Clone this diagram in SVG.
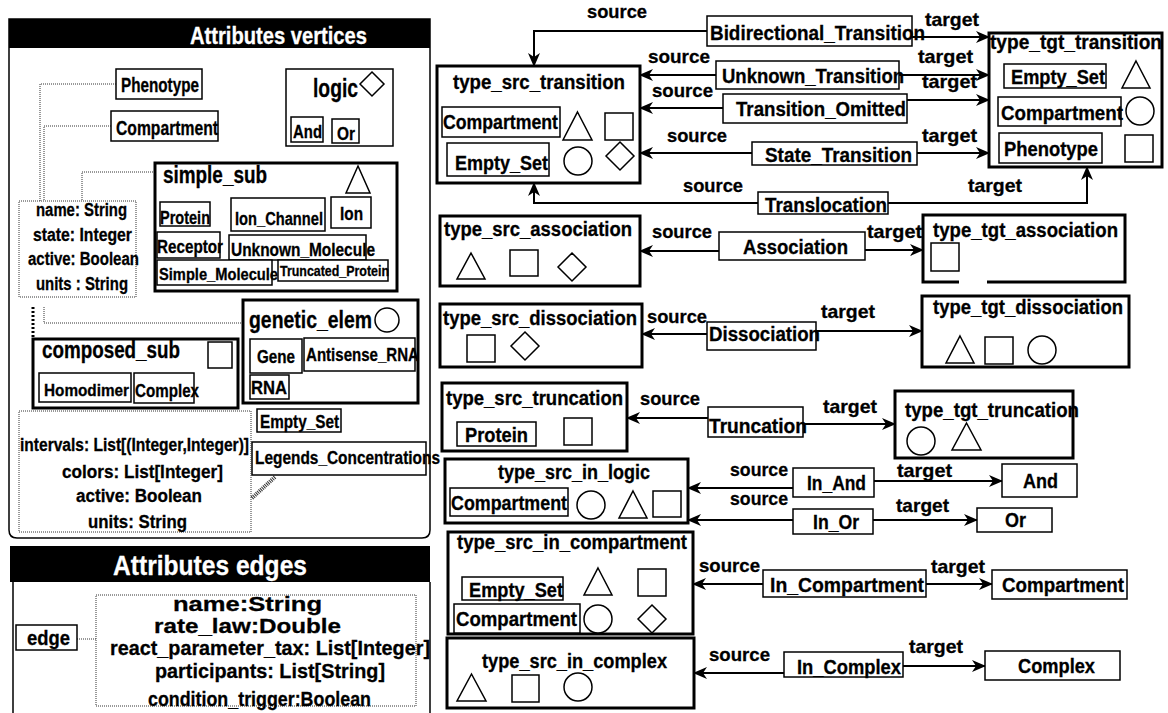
<svg xmlns="http://www.w3.org/2000/svg" width="1168" height="713" viewBox="0 0 1168 713">
  <style>
    .t { font-family: "Liberation Sans", Arial, sans-serif; font-weight: bold; fill: #000; stroke: #000; stroke-width: 0.3; font-size: 20px; }
    .title { font-size: 20px; }
    .big { font-size: 23px; }
    .sm { font-size: 18px; }
    .lbl { font-size: 19px; }
    .ea { font-size: 21px; }
    .wt { fill: #fff; stroke: #fff; }
    .box { fill: #fff; stroke: #000; stroke-width: 1.5; }
    .thick { fill: #fff; stroke: #000; stroke-width: 3; }
    .shape { fill: #fff; stroke: #000; stroke-width: 1.5; }
    .dot { fill: none; stroke: #333; stroke-width: 1; stroke-dasharray: 1 1; }
    .conn { fill: none; stroke: #000; stroke-width: 2; }
  </style>
  <defs>
    <marker id="arr" viewBox="0 0 14 12" refX="13" refY="6" markerWidth="14" markerHeight="12" markerUnits="userSpaceOnUse" orient="auto">
      <path d="M0,0 L14,6 L0,12 L4,6 Z" fill="#000"/>
    </marker>
  </defs>

  <rect width="1168" height="713" fill="#fff"/>

  <!-- vertex attribute panel -->
  <g id="panel_vertices">
    <path d="M9,19 H430 V530 Q430,538 422,538 H17 Q9,538 9,530 Z" fill="#fff" stroke="#000" stroke-width="1.5"/>
    <rect x="9" y="19" width="421" height="29" fill="#000"/>
    <text class="t wt big" x="190" y="44" textLength="177" lengthAdjust="spacingAndGlyphs">Attributes vertices</text>
  </g>

  <!-- edge attribute panel -->
  <g id="panel_edges">
    <rect x="10" y="546" width="420" height="36" fill="#000"/>
    <path d="M13,582 V713 M430,582 V713" fill="none" stroke="#000" stroke-width="1.5"/>
    <text class="t wt" style="font-size:28px" x="113" y="575" textLength="194" lengthAdjust="spacingAndGlyphs">Attributes edges</text>
  </g>

  <!-- dotted attachment lines inside the panels -->
  <g id="attribute_links">
    <path class="dot" d="M116,84 H40 V201"/>
    <path class="dot" d="M111,126 H44 V201"/>
    <path class="dot" d="M155,172 H82 V201"/>
    <path class="dot" d="M44,307 V323 H243"/>
    <path d="M33,307 V338" fill="none" stroke="#000" stroke-width="3" stroke-dasharray="2 2"/>
    <path d="M252,498 L275,477" fill="none" stroke="#333" stroke-width="4" stroke-dasharray="1 1"/>
    <path class="dot" d="M77,639 H96"/>
  </g>

  <g id="phenotype">
    <rect class="box" x="116" y="69" width="86" height="30"/>
    <text class="t" x="121" y="92" textLength="78" lengthAdjust="spacingAndGlyphs">Phenotype</text>
  </g>
  <g id="compartment">
    <rect class="box" x="111" y="111" width="107" height="30"/>
    <text class="t" x="116" y="135" textLength="102" lengthAdjust="spacingAndGlyphs">Compartment</text>
  </g>
  <g id="logic">
    <rect class="box" x="286" y="69" width="107" height="77"/>
    <text class="t" style="font-size:25px" x="313" y="97" textLength="45" lengthAdjust="spacingAndGlyphs">logic</text>
    <polygon class="shape" points="372,72 384,84 372,96 360,84"/>
    <rect class="box" x="291" y="117" width="32" height="25"/>
    <text class="t sm" x="293" y="138" textLength="29" lengthAdjust="spacingAndGlyphs">And</text>
    <rect class="box" x="332" y="119" width="27" height="24"/>
    <text class="t sm" x="337" y="140" textLength="18" lengthAdjust="spacingAndGlyphs">Or</text>
  </g>

  <g id="simple_sub">
    <rect class="thick" x="155" y="163" width="242" height="128"/>
    <text class="t big" x="163" y="183" textLength="104" lengthAdjust="spacingAndGlyphs">simple_sub</text>
    <polygon class="shape" points="358,166 370,193 346,193"/>
    <rect class="box" x="160" y="202" width="50" height="24"/>
    <text class="t sm" x="160" y="224" textLength="50" lengthAdjust="spacingAndGlyphs">Protein</text>
    <rect class="box" x="231" y="198" width="94" height="33"/>
    <text class="t sm" x="235" y="225" textLength="88" lengthAdjust="spacingAndGlyphs">Ion_Channel</text>
    <rect class="box" x="331" y="197" width="40" height="31"/>
    <text class="t sm" x="340" y="220" textLength="23" lengthAdjust="spacingAndGlyphs">Ion</text>
    <rect class="box" x="157" y="232" width="63" height="26"/>
    <text class="t sm" x="157" y="253" textLength="66" lengthAdjust="spacingAndGlyphs">Receptor</text>
    <rect class="box" x="229" y="235" width="137" height="25"/>
    <text class="t sm" x="231" y="256" textLength="144" lengthAdjust="spacingAndGlyphs">Unknown_Molecule</text>
    <rect class="box" x="157" y="260" width="115" height="25"/>
    <text class="t" style="font-size:16px" x="159" y="280" textLength="119" lengthAdjust="spacingAndGlyphs">Simple_Molecule</text>
    <rect class="box" x="278" y="260" width="110" height="21"/>
    <text class="t" style="font-size:14px" x="280" y="276" textLength="109" lengthAdjust="spacingAndGlyphs">Truncated_Protein</text>
  </g>

  <g id="vertex_attributes">
    <rect class="dot" x="19" y="201" width="117" height="96"/>
    <text class="t sm" x="36" y="216" textLength="91" lengthAdjust="spacingAndGlyphs">name: String</text>
    <text class="t sm" x="33" y="241" textLength="99" lengthAdjust="spacingAndGlyphs">state: Integer</text>
    <text class="t sm" x="28" y="265" textLength="111" lengthAdjust="spacingAndGlyphs">active: Boolean</text>
    <text class="t sm" x="36" y="290" textLength="92" lengthAdjust="spacingAndGlyphs">units : String</text>
  </g>

  <g id="genetic_elem">
    <rect class="thick" x="243" y="300" width="175" height="103"/>
    <text class="t big" x="249" y="328" textLength="123" lengthAdjust="spacingAndGlyphs">genetic_elem</text>
    <circle class="shape" cx="387" cy="320" r="12"/>
    <rect class="box" x="250" y="339" width="52" height="34"/>
    <text class="t sm" x="257" y="363" textLength="38" lengthAdjust="spacingAndGlyphs">Gene</text>
    <rect class="box" x="304" y="338" width="111" height="33"/>
    <text class="t sm" x="306" y="361" textLength="113" lengthAdjust="spacingAndGlyphs">Antisense_RNA</text>
    <rect class="box" x="250" y="375" width="39" height="24"/>
    <text class="t sm" x="251" y="394" textLength="36" lengthAdjust="spacingAndGlyphs">RNA</text>
  </g>

  <g id="composed_sub">
    <rect class="thick" x="33" y="339" width="205" height="69"/>
    <text class="t big" x="42" y="358" textLength="138" lengthAdjust="spacingAndGlyphs">composed_sub</text>
    <rect class="shape" x="208" y="342" width="24" height="26"/>
    <rect class="box" x="39" y="373" width="92" height="29"/>
    <text class="t" style="font-size:16px" x="44" y="396" textLength="85" lengthAdjust="spacingAndGlyphs">Homodimer</text>
    <rect class="box" x="134" y="373" width="60" height="30"/>
    <text class="t sm" x="135" y="397" textLength="64" lengthAdjust="spacingAndGlyphs">Complex</text>
  </g>

  <g id="empty_set">
    <rect class="box" x="257" y="409" width="84" height="23"/>
    <text class="t sm" x="260" y="428" textLength="79" lengthAdjust="spacingAndGlyphs">Empty_Set</text>
  </g>
  <g id="legends_concentrations">
    <rect class="box" x="252" y="442" width="174" height="33"/>
    <text class="t sm" x="255" y="464" textLength="185" lengthAdjust="spacingAndGlyphs">Legends_Concentrations</text>
  </g>

  <g id="legend_attributes">
    <rect class="dot" x="19" y="411" width="232" height="121"/>
    <text class="t sm" x="20" y="451" textLength="229" lengthAdjust="spacingAndGlyphs">intervals: List[(Integer,Integer)]</text>
    <text class="t sm" x="62" y="478" textLength="161" lengthAdjust="spacingAndGlyphs">colors: List[Integer]</text>
    <text class="t sm" x="76" y="502" textLength="126" lengthAdjust="spacingAndGlyphs">active: Boolean</text>
    <text class="t sm" x="88" y="528" textLength="99" lengthAdjust="spacingAndGlyphs">units: String</text>
  </g>

  <g id="edge">
    <rect class="box" x="16" y="625" width="61" height="25"/>
    <text class="t" style="font-size:21px" x="27" y="645" textLength="43" lengthAdjust="spacingAndGlyphs">edge</text>
  </g>
  <g id="edge_attributes">
    <rect class="dot" x="96" y="595" width="320" height="111"/>
    <text class="t ea" x="173" y="611" textLength="149" lengthAdjust="spacingAndGlyphs">name:String</text>
    <text class="t ea" x="154" y="633" textLength="187" lengthAdjust="spacingAndGlyphs">rate_law:Double</text>
    <text class="t ea" x="110" y="655" textLength="320" lengthAdjust="spacingAndGlyphs">react_parameter_tax: List[Integer]</text>
    <text class="t ea" x="155" y="678" textLength="230" lengthAdjust="spacingAndGlyphs">participants: List[String]</text>
    <text class="t ea" x="148" y="706" textLength="223" lengthAdjust="spacingAndGlyphs">condition_trigger:Boolean</text>
  </g>

  <!-- connectors between reaction labels and their source / target types -->
  <g id="connectors">
    <path class="conn" d="M707,31 H534 V66" marker-end="url(#arr)"/>
    <path class="conn" d="M912,37 H989" marker-end="url(#arr)"/>
    <path class="conn" d="M716,75 H640" marker-end="url(#arr)"/>
    <path class="conn" d="M899,75 H989" marker-end="url(#arr)"/>
    <path class="conn" d="M723,108 H640" marker-end="url(#arr)"/>
    <path class="conn" d="M907,100 H989" marker-end="url(#arr)"/>
    <path class="conn" d="M752,153 H640" marker-end="url(#arr)"/>
    <path class="conn" d="M917,153 H989" marker-end="url(#arr)"/>
    <path class="conn" d="M758,203 H534 V183" marker-end="url(#arr)"/>
    <path class="conn" d="M888,203 H1087 V167" marker-end="url(#arr)"/>
    <path class="conn" d="M719,251 H640" marker-end="url(#arr)"/>
    <path class="conn" d="M865,250 H923" marker-end="url(#arr)"/>
    <path class="conn" d="M707,334 H642" marker-end="url(#arr)"/>
    <path class="conn" d="M816,331 H922" marker-end="url(#arr)"/>
    <path class="conn" d="M708,418 H627" marker-end="url(#arr)"/>
    <path class="conn" d="M803,424 H895" marker-end="url(#arr)"/>
    <path class="conn" d="M793,488 H688" marker-end="url(#arr)"/>
    <path class="conn" d="M874,481 H1002" marker-end="url(#arr)"/>
    <path class="conn" d="M793,520 H688" marker-end="url(#arr)"/>
    <path class="conn" d="M873,520 H977" marker-end="url(#arr)"/>
    <path class="conn" d="M763,584 H693" marker-end="url(#arr)"/>
    <path class="conn" d="M926,584 H992" marker-end="url(#arr)"/>
    <path class="conn" d="M784,673 H694" marker-end="url(#arr)"/>
    <path class="conn" d="M903,666 H985" marker-end="url(#arr)"/>
  </g>

  <!-- connector role labels -->
  <g id="role_labels">
    <text class="t lbl" x="587" y="18" textLength="60" lengthAdjust="spacingAndGlyphs">source</text>
    <text class="t lbl" x="648" y="63" textLength="62" lengthAdjust="spacingAndGlyphs">source</text>
    <text class="t lbl" x="652" y="97" textLength="61" lengthAdjust="spacingAndGlyphs">source</text>
    <text class="t lbl" x="667" y="142" textLength="60" lengthAdjust="spacingAndGlyphs">source</text>
    <text class="t lbl" x="683" y="192" textLength="60" lengthAdjust="spacingAndGlyphs">source</text>
    <text class="t lbl" x="652" y="238" textLength="60" lengthAdjust="spacingAndGlyphs">source</text>
    <text class="t lbl" x="647" y="323" textLength="60" lengthAdjust="spacingAndGlyphs">source</text>
    <text class="t lbl" x="640" y="405" textLength="60" lengthAdjust="spacingAndGlyphs">source</text>
    <text class="t lbl" x="730" y="476" textLength="58" lengthAdjust="spacingAndGlyphs">source</text>
    <text class="t lbl" x="730" y="505" textLength="58" lengthAdjust="spacingAndGlyphs">source</text>
    <text class="t lbl" x="699" y="572" textLength="61" lengthAdjust="spacingAndGlyphs">source</text>
    <text class="t lbl" x="709" y="661" textLength="61" lengthAdjust="spacingAndGlyphs">source</text>
    <text class="t lbl" x="925" y="26" textLength="54" lengthAdjust="spacingAndGlyphs">target</text>
    <text class="t lbl" x="918" y="63" textLength="55" lengthAdjust="spacingAndGlyphs">target</text>
    <text class="t lbl" x="922" y="88" textLength="55" lengthAdjust="spacingAndGlyphs">target</text>
    <text class="t lbl" x="922" y="142" textLength="55" lengthAdjust="spacingAndGlyphs">target</text>
    <text class="t lbl" x="968" y="192" textLength="54" lengthAdjust="spacingAndGlyphs">target</text>
    <text class="t lbl" x="867" y="238" textLength="55" lengthAdjust="spacingAndGlyphs">target</text>
    <text class="t lbl" x="821" y="318" textLength="54" lengthAdjust="spacingAndGlyphs">target</text>
    <text class="t lbl" x="823" y="413" textLength="54" lengthAdjust="spacingAndGlyphs">target</text>
    <text class="t lbl" x="897" y="477" textLength="55" lengthAdjust="spacingAndGlyphs">target</text>
    <text class="t lbl" x="896" y="512" textLength="53" lengthAdjust="spacingAndGlyphs">target</text>
    <text class="t lbl" x="931" y="573" textLength="54" lengthAdjust="spacingAndGlyphs">target</text>
    <text class="t lbl" x="909" y="653" textLength="54" lengthAdjust="spacingAndGlyphs">target</text>
  </g>

  <!-- reaction nodes -->
  <g id="bidirectional_transition">
    <rect class="box" x="707" y="16" width="205" height="30"/>
    <text class="t" x="710" y="40" textLength="215" lengthAdjust="spacingAndGlyphs">Bidirectional_Transition</text>
  </g>
  <g id="unknown_transition">
    <rect class="box" x="716" y="61" width="183" height="28"/>
    <text class="t" x="722" y="83" textLength="182" lengthAdjust="spacingAndGlyphs">Unknown_Transition</text>
  </g>
  <g id="transition_omitted">
    <rect class="box" x="723" y="94" width="184" height="29"/>
    <text class="t" x="736" y="116" textLength="170" lengthAdjust="spacingAndGlyphs">Transition_Omitted</text>
  </g>
  <g id="state_transition">
    <rect class="box" x="752" y="142" width="165" height="23"/>
    <text class="t" x="765" y="162" textLength="147" lengthAdjust="spacingAndGlyphs">State_Transition</text>
  </g>
  <g id="translocation">
    <rect class="box" x="758" y="192" width="130" height="22"/>
    <text class="t" x="765" y="212" textLength="122" lengthAdjust="spacingAndGlyphs">Translocation</text>
  </g>
  <g id="association">
    <rect class="box" x="719" y="232" width="146" height="28"/>
    <text class="t" x="743" y="254" textLength="105" lengthAdjust="spacingAndGlyphs">Association</text>
  </g>
  <g id="dissociation">
    <rect class="box" x="707" y="322" width="109" height="28"/>
    <text class="t" x="709" y="341" textLength="111" lengthAdjust="spacingAndGlyphs">Dissociation</text>
  </g>
  <g id="truncation">
    <rect class="box" x="708" y="407" width="95" height="30"/>
    <text class="t" x="709" y="433" textLength="98" lengthAdjust="spacingAndGlyphs">Truncation</text>
  </g>
  <g id="in_and">
    <rect class="box" x="793" y="468" width="81" height="29"/>
    <text class="t" x="807" y="490" textLength="59" lengthAdjust="spacingAndGlyphs">In_And</text>
  </g>
  <g id="in_or">
    <rect class="box" x="793" y="509" width="80" height="25"/>
    <text class="t" x="813" y="529" textLength="46" lengthAdjust="spacingAndGlyphs">In_Or</text>
  </g>
  <g id="in_compartment">
    <rect class="box" x="763" y="570" width="163" height="27"/>
    <text class="t" x="770" y="592" textLength="154" lengthAdjust="spacingAndGlyphs">In_Compartment</text>
  </g>
  <g id="in_complex">
    <rect class="box" x="784" y="652" width="119" height="25"/>
    <text class="t" x="797" y="674" textLength="104" lengthAdjust="spacingAndGlyphs">In_Complex</text>
  </g>

  <!-- source / target type nodes -->
  <g id="type_src_transition">
    <rect class="thick" x="437" y="66" width="203" height="117"/>
    <text class="t title" x="453" y="89" textLength="172" lengthAdjust="spacingAndGlyphs">type_src_transition</text>
    <rect class="box" x="442" y="107" width="118" height="30"/>
    <text class="t" x="443" y="129" textLength="115" lengthAdjust="spacingAndGlyphs">Compartment</text>
    <polygon class="shape" points="577.5,112 592,140 563,140"/>
    <rect class="shape" x="605" y="113" width="28" height="27"/>
    <rect class="box" x="447" y="143" width="102" height="33"/>
    <text class="t" x="455" y="170" textLength="93" lengthAdjust="spacingAndGlyphs">Empty_Set</text>
    <circle class="shape" cx="578" cy="161" r="14"/>
    <polygon class="shape" points="620,142 634,156 620,170 606,156"/>
  </g>

  <g id="type_tgt_transition">
    <rect class="thick" x="989" y="33" width="173" height="134"/>
    <text class="t title" style="font-size:19.5px" x="990" y="49" textLength="172" lengthAdjust="spacingAndGlyphs">type_tgt_transition</text>
    <rect class="box" x="1004" y="64" width="102" height="24"/>
    <text class="t" x="1011" y="84" textLength="94" lengthAdjust="spacingAndGlyphs">Empty_Set</text>
    <polygon class="shape" points="1136,61 1150,88 1122,88"/>
    <rect class="box" x="998" y="97" width="123" height="29"/>
    <text class="t" x="1001" y="120" textLength="122" lengthAdjust="spacingAndGlyphs">Compartment</text>
    <circle class="shape" cx="1140" cy="111" r="14"/>
    <rect class="box" x="999" y="133" width="103" height="30"/>
    <text class="t" x="1004" y="156" textLength="94" lengthAdjust="spacingAndGlyphs">Phenotype</text>
    <rect class="shape" x="1125" y="135" width="28" height="27"/>
  </g>

  <g id="type_src_association">
    <rect class="thick" x="440" y="216" width="200" height="70"/>
    <text class="t title" x="444" y="236" textLength="188" lengthAdjust="spacingAndGlyphs">type_src_association</text>
    <polygon class="shape" points="471,253 485,279 457,279"/>
    <rect class="shape" x="510" y="250" width="28" height="26"/>
    <polygon class="shape" points="572,253 586,267 572,281 558,267"/>
  </g>

  <g id="type_tgt_association">
    <rect class="thick" x="923" y="215" width="202" height="67"/>
    <text class="t title" x="933" y="237" textLength="185" lengthAdjust="spacingAndGlyphs">type_tgt_association</text>
    <rect class="shape" x="931" y="243" width="28" height="28"/>
    <rect x="959" y="279" width="28" height="5" fill="#fff"/>
  </g>

  <g id="type_src_dissociation">
    <rect class="thick" x="440" y="304" width="202" height="63"/>
    <text class="t title" x="443" y="325" textLength="194" lengthAdjust="spacingAndGlyphs">type_src_dissociation</text>
    <rect class="shape" x="467" y="335" width="28" height="27"/>
    <polygon class="shape" points="525,332 539,346 525,360 511,346"/>
  </g>

  <g id="type_tgt_dissociation">
    <rect class="thick" x="922" y="296" width="207" height="71"/>
    <text class="t title" x="933" y="314" textLength="190" lengthAdjust="spacingAndGlyphs">type_tgt_dissociation</text>
    <polygon class="shape" points="960,336 974,363 946,363"/>
    <rect class="shape" x="985" y="337" width="28" height="27"/>
    <circle class="shape" cx="1042" cy="350" r="14"/>
  </g>

  <g id="type_src_truncation">
    <rect class="thick" x="442" y="383" width="185" height="68"/>
    <text class="t title" x="446" y="405" textLength="177" lengthAdjust="spacingAndGlyphs">type_src_truncation</text>
    <rect class="box" x="457" y="422" width="79" height="24"/>
    <text class="t" x="465" y="442" textLength="63" lengthAdjust="spacingAndGlyphs">Protein</text>
    <rect class="shape" x="564" y="418" width="28" height="27"/>
  </g>

  <g id="type_tgt_truncation">
    <rect class="thick" x="895" y="391" width="178" height="67"/>
    <text class="t title" x="905" y="417" textLength="174" lengthAdjust="spacingAndGlyphs">type_tgt_truncation</text>
    <circle class="shape" cx="921" cy="441" r="14"/>
    <polygon class="shape" points="966.5,423 981,450 952,450"/>
  </g>

  <g id="type_src_in_logic">
    <rect class="thick" x="445" y="459" width="243" height="64"/>
    <text class="t title" x="498" y="479" textLength="152" lengthAdjust="spacingAndGlyphs">type_src_in_logic</text>
    <rect class="box" x="450" y="488" width="118" height="28"/>
    <text class="t" x="451" y="510" textLength="116" lengthAdjust="spacingAndGlyphs">Compartment</text>
    <circle class="shape" cx="591" cy="505" r="14"/>
    <polygon class="shape" points="633,491 647,518 619,518"/>
    <rect class="shape" x="653" y="491" width="28" height="26"/>
  </g>

  <g id="and">
    <rect class="box" x="1002" y="464" width="75" height="33"/>
    <text class="t" x="1023" y="488" textLength="35" lengthAdjust="spacingAndGlyphs">And</text>
  </g>
  <g id="or">
    <rect class="box" x="977" y="508" width="75" height="24"/>
    <text class="t" x="1005" y="527" textLength="21" lengthAdjust="spacingAndGlyphs">Or</text>
  </g>

  <g id="type_src_in_compartment">
    <rect class="thick" x="448" y="532" width="245" height="102"/>
    <text class="t title" x="457" y="549" textLength="230" lengthAdjust="spacingAndGlyphs">type_src_in_compartment</text>
    <rect class="box" x="462" y="577" width="101" height="23"/>
    <text class="t" x="469" y="597" textLength="94" lengthAdjust="spacingAndGlyphs">Empty_Set</text>
    <polygon class="shape" points="598,568 612,595 584,595"/>
    <rect class="shape" x="638" y="569" width="28" height="27"/>
    <rect class="box" x="454" y="604" width="126" height="29"/>
    <text class="t" x="456" y="626" textLength="121" lengthAdjust="spacingAndGlyphs">Compartment</text>
    <circle class="shape" cx="598" cy="619" r="14"/>
    <polygon class="shape" points="652,605 666,619 652,633 638,619"/>
  </g>

  <g id="compartment_target">
    <rect class="box" x="992" y="570" width="135" height="29"/>
    <text class="t" x="1002" y="592" textLength="122" lengthAdjust="spacingAndGlyphs">Compartment</text>
  </g>

  <g id="type_src_in_complex">
    <rect class="thick" x="447" y="638" width="247" height="70"/>
    <text class="t title" x="482" y="668" textLength="185" lengthAdjust="spacingAndGlyphs">type_src_in_complex</text>
    <polygon class="shape" points="471.5,674 486,701 457,701"/>
    <rect class="shape" x="512" y="675" width="27" height="27"/>
    <circle class="shape" cx="578" cy="687" r="14"/>
  </g>

  <g id="complex_target">
    <rect class="box" x="985" y="651" width="135" height="29"/>
    <text class="t" x="1018" y="673" textLength="77" lengthAdjust="spacingAndGlyphs">Complex</text>
  </g>
</svg>
